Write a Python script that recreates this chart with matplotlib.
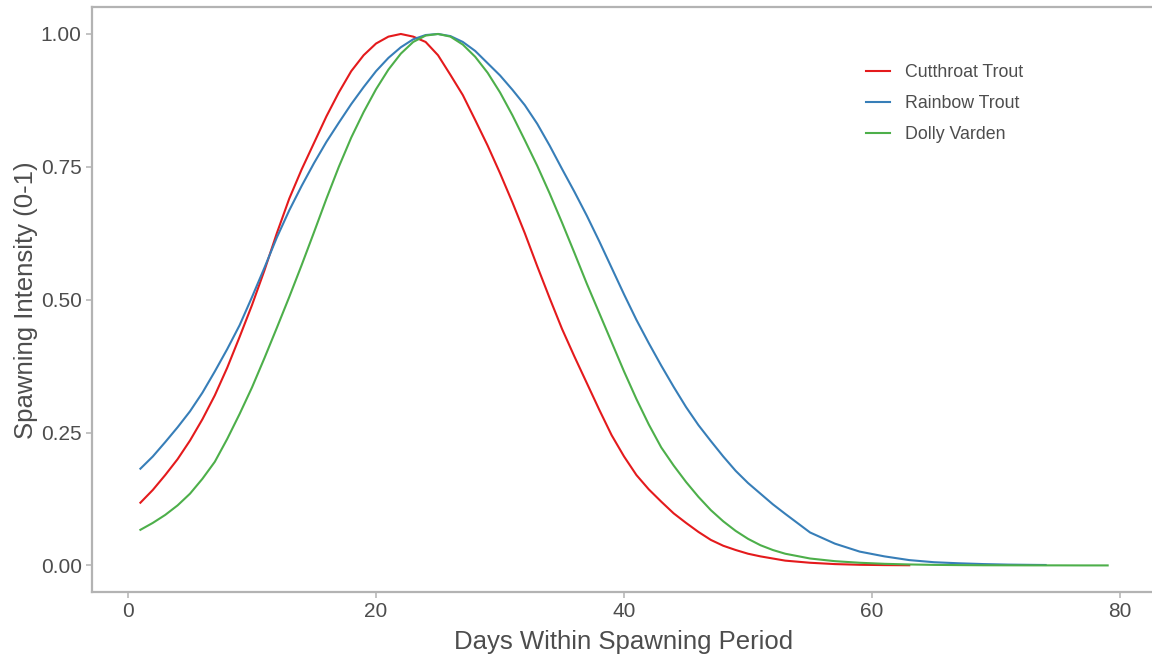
import matplotlib
matplotlib.use("Agg")
import matplotlib.pyplot as plt

plt.rcParams['font.family'] = ['Liberation Sans', 'DejaVu Sans']

# Values (daily through the main hump, sparser in the tails)
ct_days = list(range(1, 52)) + [53, 55, 57, 59, 61, 63]
ct_vals = [0.118, 0.142, 0.17, 0.2, 0.235, 0.275, 0.32, 0.372, 0.43, 0.49,
           0.555, 0.625, 0.69, 0.745, 0.795, 0.845, 0.89, 0.93, 0.96, 0.982,
           0.995, 1.0, 0.995, 0.985, 0.96, 0.923, 0.885, 0.838, 0.79, 0.738,
           0.683, 0.625, 0.563, 0.503, 0.445, 0.393, 0.343, 0.293, 0.245, 0.205,
           0.17, 0.143, 0.12, 0.098, 0.08, 0.063, 0.048, 0.037, 0.029, 0.022,
           0.017, 0.009, 0.005, 0.0025, 0.0012, 0.0006, 0.0003]

rt_days = list(range(1, 53)) + [53, 55, 57, 59, 61, 63, 65, 67, 69, 71, 73, 74]
rt_vals = [0.182, 0.205, 0.232, 0.26, 0.29, 0.325, 0.365, 0.407, 0.452, 0.505,
           0.56, 0.617, 0.668, 0.714, 0.757, 0.797, 0.833, 0.868, 0.90, 0.93,
           0.955, 0.975, 0.99, 0.998, 1.0, 0.996, 0.985, 0.968, 0.945, 0.922,
           0.895, 0.866, 0.831, 0.79, 0.746, 0.703, 0.658, 0.61, 0.56, 0.51,
           0.462, 0.418, 0.376, 0.336, 0.298, 0.264, 0.234, 0.205, 0.178, 0.155,
           0.135, 0.115, 0.097, 0.062, 0.041, 0.026, 0.017, 0.010, 0.006, 0.004,
           0.0025, 0.0015, 0.001, 0.0008]

dv_days = list(range(1, 53)) + [53, 55, 57, 59, 61, 63, 65, 67, 69, 71, 73, 75, 77, 79]
dv_vals = [0.067, 0.08, 0.095, 0.113, 0.135, 0.163, 0.195, 0.238, 0.285, 0.335,
           0.39, 0.447, 0.505, 0.565, 0.627, 0.69, 0.75, 0.805, 0.853, 0.896,
           0.933, 0.963, 0.985, 0.997, 1.0, 0.995, 0.98, 0.957, 0.927, 0.89,
           0.847, 0.80, 0.752, 0.70, 0.645, 0.588, 0.53, 0.475, 0.42, 0.365,
           0.313, 0.265, 0.222, 0.188, 0.157, 0.129, 0.104, 0.083, 0.065, 0.05,
           0.038, 0.029, 0.022, 0.013, 0.008, 0.005, 0.003, 0.0018, 0.001,
           0.0006, 0.0003, 0.0002, 0.0001, 0.0001, 0.0, 0.0]

species = ["Cutthroat Trout", "Rainbow Trout", "Dolly Varden"]
colors = ["#E41A1C", "#377EB8", "#4DAF4A"]

x_ticks = [0, 20, 40, 60, 80]
y_ticks = [0.00, 0.25, 0.50, 0.75, 1.00]

fig = plt.figure(figsize=(11.52, 6.55), dpi=100)
ax = fig.add_axes([0.0799, 0.0962, 0.9236, 0.8925])

for days, vals, name, col in zip([ct_days, rt_days, dv_days],
                                 [ct_vals, rt_vals, dv_vals], species, colors):
    ax.plot(days, vals, color=col, linewidth=1.5, label=name)

ax.set_xlim(-2.9, 82.9)
ax.set_ylim(-0.05, 1.05)
ax.set_xticks(x_ticks)
ax.set_yticks(y_ticks)
ax.set_yticklabels([f"{v:.2f}" for v in y_ticks])

grey = "#B3B3B3"
text_col = "#4D4D4D"
for s in ax.spines.values():
    s.set_color(grey)
    s.set_linewidth(1.6)
ax.tick_params(colors=grey, labelcolor=text_col, labelsize=15, length=4, width=1.1)

ax.set_xlabel("Days Within Spawning Period", fontsize=18.5, color=text_col, labelpad=6)
ax.set_ylabel("Spawning Intensity (0-1)", fontsize=18.5, color=text_col, labelpad=2)

leg = ax.legend(loc="upper left", bbox_to_anchor=(0.712, 0.93), frameon=False,
                fontsize=12.8, handlelength=1.4, handletextpad=0.8, labelspacing=0.78)
for t in leg.get_texts():
    t.set_color(text_col)

fig.savefig("out.png", dpi=100)
